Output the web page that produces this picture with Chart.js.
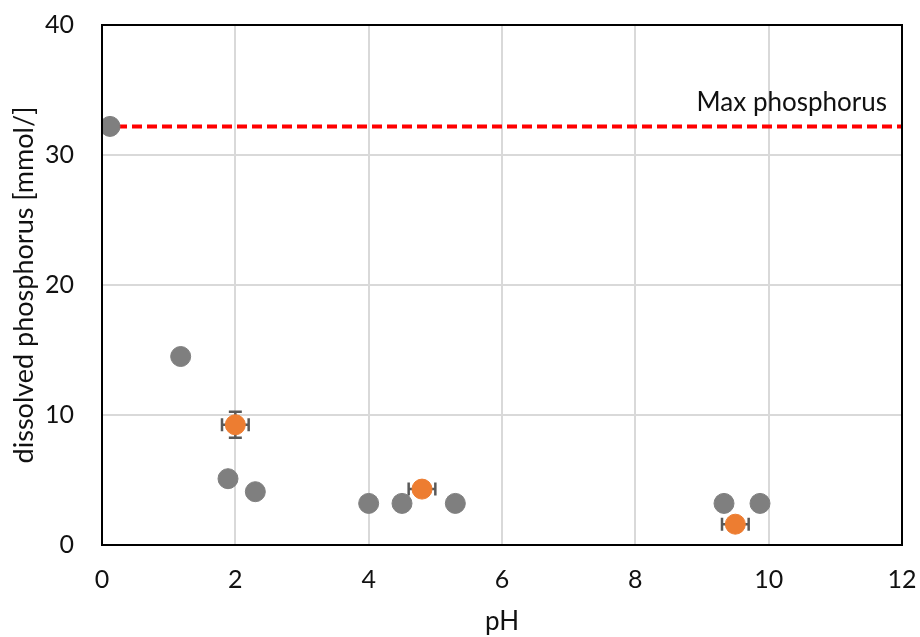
<!DOCTYPE html>
<html>
<head>
<meta charset="utf-8">
<script src="https://cdn.jsdelivr.net/npm/chart.js@4"></script>
<style>
  html, body { margin: 0; padding: 0; background: #fff; }
  #wrap { width: 920px; height: 637px; }
</style>
</head>
<body>
<div id="wrap"><canvas id="c" width="920" height="637"></canvas></div>
<script>
// Measured samples (grey) and replicate means (orange, with errors)
const greyPH = [0.12, 1.18, 1.89, 2.3, 4.0, 4.5, 5.3, 9.33, 9.87];
const greyP  = [32.2, 14.5, 5.1, 4.1, 3.2, 3.2, 3.2, 3.2, 3.2];
const meanPH = [2.0, 4.8, 9.5];
const meanP  = [9.25, 4.3, 1.6];
const errPH  = [0.2, 0.2, 0.2];
const errP   = [1.0, 0, 0];
const maxPhosphorus = 32.2;
const maxLabel = 'Max phosphorus';
const xTicks = [0, 2, 4, 6, 8, 10, 12];
const yTicks = [0, 10, 20, 30, 40];

const FONT = 'Lato, "Open Sans", sans-serif';
const TEXT = '#111';

const toPoints = (xs, ys) => xs.map((x, i) => ({ x: x, y: ys[i] }));

// Error bars for the orange series, drawn just before its markers
const errorBars = {
  id: 'errorBars',
  beforeDatasetDraw(chart, args) {
    if (args.index !== 2) return;
    const { ctx, scales: { x, y } } = chart;
    ctx.save();
    ctx.strokeStyle = '#595959';
    ctx.lineWidth = 2.5;
    const cap = 6.5;
    meanPH.forEach((px, i) => {
      const cx = x.getPixelForValue(px), cy = y.getPixelForValue(meanP[i]);
      if (errPH[i]) {
        const l = x.getPixelForValue(px - errPH[i]), r = x.getPixelForValue(px + errPH[i]);
        ctx.beginPath();
        ctx.moveTo(l, cy); ctx.lineTo(r, cy);
        ctx.moveTo(l, cy - cap); ctx.lineTo(l, cy + cap);
        ctx.moveTo(r, cy - cap); ctx.lineTo(r, cy + cap);
        ctx.stroke();
      }
      if (errP[i]) {
        const t = y.getPixelForValue(meanP[i] + errP[i]), b = y.getPixelForValue(meanP[i] - errP[i]);
        ctx.beginPath();
        ctx.moveTo(cx, t); ctx.lineTo(cx, b);
        ctx.moveTo(cx - cap, t); ctx.lineTo(cx + cap, t);
        ctx.moveTo(cx - cap, b); ctx.lineTo(cx + cap, b);
        ctx.stroke();
      }
    });
    ctx.restore();
  }
};

// Plot frame and the label of the max-phosphorus line
const frameAndLabel = {
  id: 'frameAndLabel',
  afterDatasetsDraw(chart) {
    const { ctx, chartArea: a, scales: { x, y } } = chart;
    ctx.save();
    ctx.strokeStyle = '#000';
    ctx.lineWidth = 2;
    ctx.strokeRect(a.left, a.top, a.right - a.left, a.bottom - a.top);
    ctx.fillStyle = TEXT;
    ctx.font = '26px ' + FONT;
    ctx.textAlign = 'right';
    ctx.textBaseline = 'alphabetic';
    ctx.fillText(maxLabel, x.getPixelForValue(12) - 15, y.getPixelForValue(maxPhosphorus) - 15);
    ctx.restore();
  }
};

new Chart(document.getElementById('c'), {
  type: 'scatter',
  data: {
    datasets: [
      {
        type: 'line',
        label: maxLabel,
        data: [{ x: 0, y: maxPhosphorus }, { x: 12, y: maxPhosphorus }],
        borderColor: '#ff0000',
        borderWidth: 4,
        borderDash: [10, 5],
        pointRadius: 0,
        order: 3
      },
      {
        label: 'samples',
        data: toPoints(greyPH, greyP),
        backgroundColor: '#7f7f7f',
        borderColor: '#7f7f7f',
        pointRadius: 10,
        order: 2
      },
      {
        label: 'means',
        data: toPoints(meanPH, meanP),
        backgroundColor: '#ed7d31',
        borderColor: '#ed7d31',
        pointRadius: 10,
        order: 1
      }
    ]
  },
  options: {
    responsive: false,
    animation: false,
    layout: { padding: { top: 25, right: 18, left: 0, bottom: 0 } },
    plugins: { legend: { display: false }, tooltip: { enabled: false } },
    scales: {
      x: {
        type: 'linear', min: 0, max: 12,
        afterBuildTicks: s => { s.ticks = xTicks.map(v => ({ value: v })); },
        afterFit: s => { s.height = 92; s.paddingLeft = 0; s.paddingRight = 0; },
        grid: { color: '#d9d9d9', lineWidth: 2, drawTicks: false },
        border: { display: false },
        ticks: { padding: 20, color: TEXT, font: { family: FONT, size: 25 } },
        title: { display: true, text: 'pH', color: TEXT, font: { family: FONT, size: 26 }, padding: { top: 0, bottom: 0 } }
      },
      y: {
        type: 'linear', min: 0, max: 40,
        afterBuildTicks: s => { s.ticks = yTicks.map(v => ({ value: v })); },
        afterFit: s => { s.width = 102; s.paddingTop = 0; s.paddingBottom = 0; },
        grid: { color: '#d9d9d9', lineWidth: 2, drawTicks: false },
        border: { display: false },
        ticks: { padding: 28, color: TEXT, font: { family: FONT, size: 25 } },
        title: { display: true, text: 'dissolved phosphorus [mmol/]', color: TEXT, font: { family: FONT, size: 27 }, padding: { top: 8, bottom: 0 } }
      }
    }
  },
  plugins: [errorBars, frameAndLabel]
});
</script>
</body>
</html>
